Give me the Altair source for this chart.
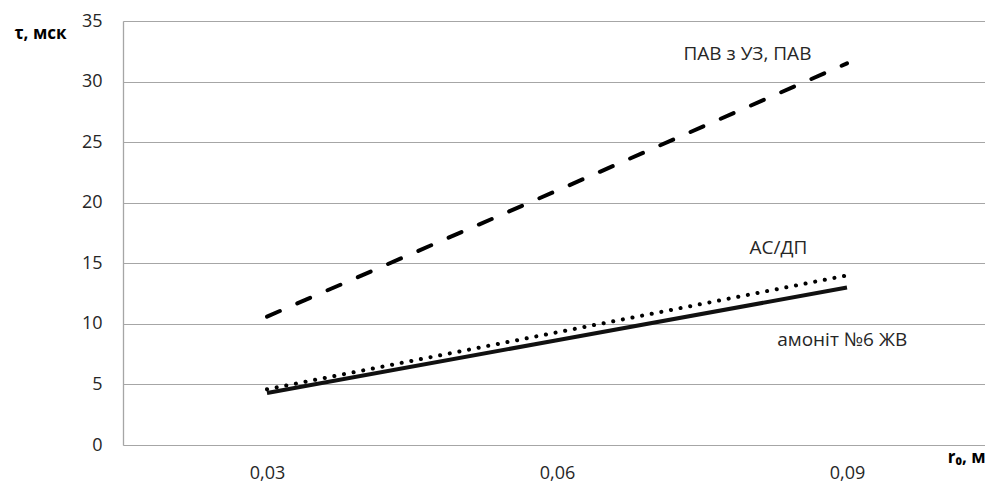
import altair as alt
import pandas as pd

# data
r0 = [0.03, 0.06, 0.09]
pav = [10.6, 21.0, 31.5]          # ПАВ з УЗ, ПАВ (dashed)
asdp = [4.6, 9.3, 14.0]           # АС/ДП (dotted)
amonit = [4.3, 8.65, 13.0]        # амоніт №6 ЖВ (solid)
series_names = ["ПАВ з УЗ, ПАВ", "АС/ДП", "амоніт №6 ЖВ"]
y_ticks = [0, 5, 10, 15, 20, 25, 30, 35]

# annotation anchors (data units)
label_r0 = [0.0797, 0.0829, 0.0895]
label_t = [32.3, 16.3, 8.7]

FONT = "Open Sans"
TXT = "#262626"

df_pav = pd.DataFrame({"r0": r0, "t": pav})
df_asdp = pd.DataFrame({"r0": r0, "t": asdp})
df_am = pd.DataFrame({"r0": r0, "t": amonit})
df_lab = pd.DataFrame({"r0": label_r0, "t": label_t, "name": series_names})

xscale = alt.Scale(domain=[0.015103, 0.104276], nice=False, zero=False)
yscale = alt.Scale(domain=[0, 35], nice=False)

x_enc = alt.X(
    "r0:Q",
    scale=xscale,
    axis=alt.Axis(
        values=r0,
        labelExpr="replace(format(datum.value, '.2f'), '.', ',')",
        grid=False,
        domain=False,
        ticks=False,
        labelFont=FONT,
        labelFontSize=18,
        labelColor=TXT,
        labelPadding=19,
        title="r₀, м",
        titleFont=FONT,
        titleFontSize=17,
        titleFontWeight="bold",
        titleColor="#000000",
        titleAngle=0,
        titleX=862,
        titleY=12,
        titleAlign="right",
        titleBaseline="middle",
    ),
)
y_enc = alt.Y(
    "t:Q",
    scale=yscale,
    axis=alt.Axis(
        values=y_ticks,
        grid=True,
        gridColor="#a6a6a6",
        gridWidth=1,
        domain=True,
        domainColor="#a6a6a6",
        domainWidth=1.3,
        ticks=False,
        labelFont=FONT,
        labelFontSize=18,
        labelColor=TXT,
        labelPadding=21,
        title="τ, мск",
        titleFont=FONT,
        titleFontSize=17,
        titleFontWeight="bold",
        titleColor="#000000",
        titleAngle=0,
        titleX=-57,
        titleY=12,
        titleAlign="right",
        titleBaseline="middle",
    ),
)

line_pav = alt.Chart(df_pav).mark_line(
    color="#000000", strokeWidth=4, strokeDash=[14, 19], strokeCap="round"
).encode(x=x_enc, y=y_enc)

line_asdp = alt.Chart(df_asdp).mark_line(
    color="#000000", strokeWidth=4, strokeDash=[0.1, 9.7], strokeCap="round"
).encode(x="r0:Q", y="t:Q")

line_am = alt.Chart(df_am).mark_line(
    color="#111111", strokeWidth=4
).encode(x="r0:Q", y="t:Q")

labels = alt.Chart(df_lab).mark_text(
    font=FONT, fontSize=19, color=TXT, align="center", baseline="middle"
).encode(x="r0:Q", y="t:Q", text="name:N")

chart = (
    alt.layer(line_pav, line_asdp, line_am, labels)
    .properties(
        width=862,
        height=424,
        autosize=alt.AutoSizeParams(type="none"),
        padding={"left": 115, "top": 13, "right": 0, "bottom": 38},
    )
    .configure_view(stroke=None)
    .configure(background="white")
)

chart.save("out.html", embed_options={"renderer": "svg", "actions": False})
